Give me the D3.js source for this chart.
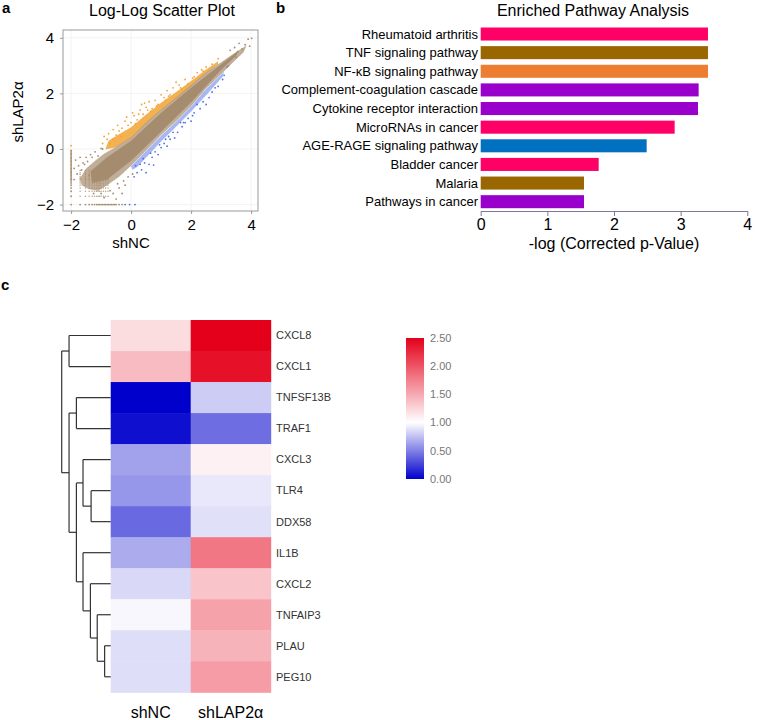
<!DOCTYPE html>
<html><head><meta charset="utf-8">
<script src="https://cdn.jsdelivr.net/npm/d3@7"></script>
<style>body{margin:0;background:#fff}svg{font-family:"Liberation Sans",Arial,sans-serif}</style>
</head><body><svg id="c" width="778" height="720"></svg>
<script>
// ---------- Panel a: log-log scatter ----------
const scatterTicks = [-2, 0, 2, 4];
// outer (less dense) brown cloud outline (shNC, shLAP2α)
const brownCloud = [[-1.7,-1.05],[-1.5,-0.7],[-1.2,-0.42],[-0.9,-0.17],[-0.5,0.08],[0,0.42],[0.5,0.95],[1,1.42],[1.5,1.85],[2,2.3],[2.5,2.75],[3,3.12],[3.4,3.42],[3.7,3.62],[3.85,3.72],
  [3.75,3.48],[3.4,3.12],[3.1,2.8],[2.5,2.18],[2,1.55],[1.5,1.0],[1,0.5],[0.5,-0.05],[0,-0.6],[-0.4,-1.0],[-0.8,-1.3],[-1.1,-1.5],[-1.4,-1.45],[-1.65,-1.3]];
// dense core of the brown cloud
const brownCore = [[-1.35,-0.8],[-0.8,-0.3],[0,0.3],[1,1.3],[2,2.2],[3,3.05],[3.6,3.55],
  [3.5,3.35],[3,2.85],[2,1.68],[1,0.62],[0,-0.42],[-0.8,-1.1],[-1.3,-1.22]];
// dense orange stripe above the cloud
const orangeBand = [[-0.85,0.02],[-0.75,0.3],[-0.45,0.5],[0,0.78],[0.5,1.24],[1,1.66],[1.5,2.05],[2,2.45],[2.5,2.86],[2.9,3.16],
  [2.9,3.05],[2.5,2.72],[2,2.27],[1.5,1.82],[1,1.39],[0.5,0.92],[0,0.4],[-0.5,0.06],[-0.85,-0.02]];
// dense blue stripe below the cloud
const blueBand = [[0.0,-0.62],[0.5,-0.07],[1,0.48],[1.5,0.98],[2,1.53],[2.5,2.16],[3.1,2.78],
  [3.05,2.6],[2.6,2.05],[2,1.35],[1.5,0.8],[1,0.27],[0.55,-0.25],[0.2,-0.65],[0.05,-0.75]];
const orangePts = [[-2.0,0.12],[-0.95,0.2],[-0.8,0.35],[-0.75,0.55],[-0.6,0.7],[-0.6,0.35],[-0.5,0.5],[-0.45,0.85],[-0.3,0.75],[-0.2,1.0],[-0.15,1.15],[0,0.95],[0.1,1.2],[0.2,1.05],[0.3,1.4],[0.35,1.6],[0.4,1.25],[0.5,1.5],[0.6,1.7],[0.7,1.45],[0.8,1.75],[0.9,1.6],[1.0,1.95],[1.1,1.85],[1.2,2.1],[1.3,1.95],[1.4,2.2],[1.5,2.4],[1.6,2.3],[1.7,2.15],[1.8,2.5],[1.9,2.35],[2.1,2.6],[2.2,2.75],[2.4,2.8],[2.5,2.95],[2.7,3.05],[2.9,3.25],[-0.35,0.45],[0.15,0.9],[0.65,1.35],[1.15,1.75],
  [-0.7,0.2],[-0.4,0.65],[-0.1,0.85],[0.25,1.25],[0.55,1.4],[0.85,1.55],[1.25,1.9],[1.65,2.2],[2.05,2.55],[2.35,2.85],[-0.9,0.45],[0.05,1.3],[0.45,1.65]];
const bluePts = [[0.1,-1.0],[0.2,-0.85],[0.35,-0.75],[0.45,-0.5],[0.5,-0.85],[0.6,-0.55],[0.7,-0.3],[0.75,-0.58],[0.8,-0.1],[0.9,-0.2],[1.0,0.05],[1.1,0.2],[1.2,0.1],[1.3,0.35],[1.45,0.4],[1.55,0.6],[1.7,0.8],[1.8,0.95],[1.9,1.1],[2.0,1.0],[2.1,1.3],[2.3,1.45],[2.5,1.6],[2.6,1.85],[2.7,2.05],[2.9,2.25],[3.05,2.5],[3.1,2.65],[-0.2,-2.0],[-0.05,-2.0],[0.13,-2.0],[1.25,0.45],[1.65,0.95],[2.2,1.6],[0.3,-0.55],
  [0.15,-0.6],[0.4,-0.35],[0.65,-0.15],[0.95,0.15],[1.15,0.35],[1.4,0.6],[1.75,0.95],[2.05,1.2],[2.4,1.7],[2.8,2.2],[3.2,2.95]];
const brownPts = [[3.3,3.55],[3.45,3.65],[3.55,3.5],[3.6,3.8],[3.7,3.6],[3.8,3.75],[3.9,3.95],[4.02,3.98],[3.5,3.3],[3.25,3.0],[3.95,3.7],
  [-1.9,-1.1],[-1.8,-0.9],[-1.75,-0.6],[-1.6,-0.5],[-1.5,-0.3],[-1.3,-0.3],[-1.2,-0.1],[-1.0,0.02],[-1.85,-0.4],[-1.65,-0.75],[-1.4,-0.95],
  [-0.6,-1.6],[-0.4,-1.4],[-0.2,-1.3],[-0.9,-1.75],[-0.5,-1.8],[-0.3,-1.6],[-0.1,-1.0],[0.05,-0.9],
  [-1.55,-0.55],[-1.45,-0.45],[-1.35,-0.2],[-1.1,-0.25],[-0.95,0.0],[-1.9,-0.7],[-1.7,-0.3],[-0.7,-1.5],[-0.45,-1.25],[-0.25,-1.15],[-1.0,-1.6],[-1.25,-1.6]];
const countLevels = [-1.7,-1.52,-1.4,-1.3,-1.22,-1.15,-1.1,-1.05,-1.0,-0.92,-0.85,-0.77];
const edgeColumnY = [-2,-1.7,-1.52,-1.4,-1.3,-1.22,-1.15,-1.1,-1.05,-1.0,-0.95,-0.9,-0.85,-0.8,-0.75,-0.7,-0.65,-0.6,-0.55,-0.5,-0.45,-0.4,-0.35,-0.3,-0.25,-0.2,-0.15,-0.1,-0.05];
const edgeRowX = [-1.7,-1.52,-1.4,-1.3,-1.22,-1.15,-1.1,-1.05,-1.0,-0.95,-0.9,-0.85,-0.8,-0.75,-0.7,-0.65,-0.6,-0.55,-0.5,-0.4,-0.3];

// ---------- Panel b: pathways ----------
const pathways = ["Rheumatoid arthritis","TNF signaling pathway","NF-κB signaling pathway","Complement-coagulation cascade","Cytokine receptor interaction","MicroRNAs in cancer","AGE-RAGE signaling pathway","Bladder cancer","Malaria","Pathways in cancer"];
const pathwayScores = [3.41, 3.41, 3.41, 3.27, 3.26, 2.91, 2.49, 1.77, 1.55, 1.55];
const pathwayColors = ["#ff0066","#996600","#ed7d31","#9900cc","#9900cc","#ff0066","#0070c0","#ff0066","#996600","#9900cc"];
const barTicks = [0, 1, 2, 3, 4];

// ---------- Panel c: heatmap ----------
const genes = ["CXCL8","CXCL1","TNFSF13B","TRAF1","CXCL3","TLR4","DDX58","IL1B","CXCL2","TNFAIP3","PLAU","PEG10"];
const samples = ["shNC","shLAP2α"];
const exprShNC    = [1.2, 1.4, 0.0, 0.06, 0.63, 0.59, 0.41, 0.67, 0.85, 0.97, 0.87, 0.87];
const exprShLAP2a = [2.5, 2.4, 0.8, 0.43, 1.08, 0.91, 0.88, 1.8, 1.35, 1.55, 1.45, 1.58];
const legendTicks = [0, 0.5, 1, 1.5, 2, 2.5];
const dendroTree = {h:1.0, children:[
  {h:0.85, children:[{name:"CXCL8"},{name:"CXCL1"}]},
  {h:0.85, children:[
    {h:0.70, children:[{name:"TNFSF13B"},{name:"TRAF1"}]},
    {h:0.70, children:[
      {h:0.565, children:[{name:"CXCL3"},{h:0.40, children:[{name:"TLR4"},{name:"DDX58"}]}]},
      {h:0.565, children:[{name:"IL1B"},{h:0.414, children:[{name:"CXCL2"},{h:0.275, children:[{name:"TNFAIP3"},{h:0.124, children:[{name:"PLAU"},{name:"PEG10"}]}]}]}]}
    ]}
  ]}
]};

const svg = d3.select("#c");
const font = '"Liberation Sans",Arial,sans-serif';

// panel letters
[["a",2,13],["b",276,13],["c",1,290]].forEach(([t,x,y]) =>
  svg.append("text").attr("x",x).attr("y",y).attr("font-size",15).attr("font-weight","bold").text(t));

// ===== Panel a =====
{
  const x = d3.scaleLinear().domain([-2.27, 4.23]).range([63, 258]);
  const y = d3.scaleLinear().domain([-2.23, 4.28]).range([211, 30]);
  const g = svg.append("g");
  g.append("defs").append("clipPath").attr("id","sc").append("rect")
    .attr("x",63).attr("y",30).attr("width",195).attr("height",181);
  g.selectAll(".gx").data(scatterTicks).join("line").attr("x1",d=>x(d)).attr("x2",d=>x(d)).attr("y1",30).attr("y2",211).attr("stroke","#f3f3f3");
  g.selectAll(".gy").data(scatterTicks).join("line").attr("y1",d=>y(d)).attr("y2",d=>y(d)).attr("x1",63).attr("x2",258).attr("stroke","#f3f3f3");
  const pg = g.append("g").attr("clip-path","url(#sc)");
  const brown = "#a68c6e", orange = "#f2a332", blue = "#4f70e6";
  const dot = (data, col, r) => pg.append("g").selectAll("circle").data(data).join("circle")
      .attr("cx",d=>x(d[0])).attr("cy",d=>y(d[1])).attr("r",r).attr("fill",col);
  dot(d3.cross(countLevels, countLevels), brown, 0.75).attr("opacity",0.8);
  dot(edgeColumnY.map(v=>[-2,v]), brown, 0.9);
  dot(edgeRowX.map(v=>[v,-2]), brown, 0.9);
  const line = d3.line().x(d=>x(d[0])).y(d=>y(d[1])).curve(d3.curveLinearClosed);
  pg.append("path").attr("d",line(orangeBand)).attr("fill",orange).attr("opacity",0.85);
  pg.append("path").attr("d",line(blueBand)).attr("fill",blue).attr("opacity",0.5);
  dot(orangePts, orange, 0.9);
  dot(bluePts, blue, 0.9);
  pg.append("path").attr("d",line(brownCloud)).attr("fill",brown).attr("opacity",0.7);
  pg.append("path").attr("d",line(brownCore)).attr("fill",brown);
  dot(brownPts, brown, 0.9);
  g.append("rect").attr("x",63).attr("y",30).attr("width",195).attr("height",181).attr("fill","none").attr("stroke","#999").attr("stroke-width",1);
  const fmt = d3.format("d");
  const ax = g.append("g").attr("transform","translate(0,211)").call(d3.axisBottom(x).tickValues(scatterTicks).tickFormat(fmt).tickSize(3).tickPadding(5));
  ax.select(".domain").remove();
  ax.selectAll("line").attr("stroke","#999");
  ax.selectAll("text").attr("font-size",15).attr("font-family",font).attr("fill","#000");
  const ay = g.append("g").attr("transform","translate(63,0)").call(d3.axisLeft(y).tickValues(scatterTicks).tickFormat(fmt).tickSize(3).tickPadding(6));
  ay.select(".domain").remove();
  ay.selectAll("line").attr("stroke","#999");
  ay.selectAll("text").attr("font-size",15).attr("font-family",font).attr("fill","#000");
  g.append("text").attr("x",131).attr("y",248).attr("text-anchor","middle").attr("font-size",15).text("shNC");
  g.append("text").attr("transform","translate(23,112) rotate(-90)").attr("text-anchor","middle").attr("font-size",15).text("shLAP2α");
  g.append("text").attr("x",162).attr("y",16).attr("text-anchor","middle").attr("font-size",16).text("Log-Log Scatter Plot");
}

// ===== Panel b =====
{
  const x = d3.scaleLinear().domain([0,4]).range([480.7, 747.3]);
  const y = d3.scaleBand().domain(pathways).range([24.7, 211]).paddingInner(0.3).paddingOuter(0.15);
  const g = svg.append("g");
  g.selectAll("rect").data(pathways).join("rect")
    .attr("x",x(0)).attr("y",d=>y(d)).attr("height",y.bandwidth())
    .attr("width",(d,i)=>x(pathwayScores[i])-x(0)).attr("fill",(d,i)=>pathwayColors[i]);
  g.selectAll(".lbl").data(pathways).join("text")
    .attr("x",478).attr("y",d=>y(d)+y.bandwidth()/2).attr("dy","0.35em")
    .attr("text-anchor","end").attr("font-size",13).text(d=>d);
  const ax = g.append("g").attr("transform","translate(0,211)").call(d3.axisBottom(x).tickValues(barTicks).tickFormat(d3.format("d")).tickSize(5).tickPadding(3).tickSizeOuter(0));
  ax.select(".domain").attr("stroke","#7a7a9a");
  ax.selectAll("line").attr("stroke","#7a7a9a");
  ax.selectAll("text").attr("font-size",16).attr("font-family",font).attr("fill","#000");
  g.append("text").attr("x",614).attr("y",249).attr("text-anchor","middle").attr("font-size",16).text("-log (Corrected p-Value)");
  g.append("text").attr("x",593).attr("y",16).attr("text-anchor","middle").attr("font-size",16).text("Enriched Pathway Analysis");
}

// ===== Panel c =====
{
  const color = d3.scaleLinear().domain([0,1,2.5]).range(["#0000cc","#ffffff","#e4001a"]);
  const xb = d3.scaleBand().domain(samples).range([110.7, 270.7]);
  const yb = d3.scaleBand().domain(genes).range([320, 692.3]);
  const g = svg.append("g");
  const cells = [];
  genes.forEach((gn,i)=>{ cells.push({g:gn,s:samples[0],v:exprShNC[i]}); cells.push({g:gn,s:samples[1],v:exprShLAP2a[i]}); });
  g.selectAll("rect").data(cells).join("rect")
    .attr("x",d=>xb(d.s)).attr("y",d=>yb(d.g)).attr("width",xb.bandwidth()+0.5).attr("height",yb.bandwidth()+0.5)
    .attr("fill",d=>color(d.v));
  g.selectAll(".gl").data(genes).join("text")
    .attr("x",276).attr("y",d=>yb(d)+yb.bandwidth()/2).attr("dy","0.35em")
    .attr("font-size",11).attr("fill","#333").text(d=>d);
  g.selectAll(".sl").data(samples).join("text")
    .attr("x",d=>xb(d)+xb.bandwidth()/2).attr("y",718).attr("text-anchor","middle")
    .attr("font-size",16).text(d=>d);
  const dx = d3.scaleLinear().domain([0,1]).range([110.7, 61.7]);
  const root = d3.hierarchy(dendroTree);
  root.eachAfter(n=>{
    if (!n.children) { n.py = yb(n.data.name)+yb.bandwidth()/2; n.px = dx(0); }
    else { n.py = (n.children[0].py + n.children[n.children.length-1].py)/2; n.px = dx(n.data.h); }
  });
  const dg = g.append("g").attr("stroke","#333").attr("stroke-width",1.2).attr("fill","none");
  root.descendants().filter(n=>n.children).forEach(n=>{
    dg.append("line").attr("x1",n.px).attr("x2",n.px).attr("y1",n.children[0].py).attr("y2",n.children[n.children.length-1].py);
    n.children.forEach(c=>dg.append("line").attr("x1",n.px).attr("x2",c.px).attr("y1",c.py).attr("y2",c.py));
  });
  const ly = d3.scaleLinear().domain([0,2.5]).range([479, 338]);
  const grad = svg.append("defs").append("linearGradient").attr("id","lg").attr("x1",0).attr("y1",1).attr("x2",0).attr("y2",0);
  d3.range(0,2.51,0.25).forEach(v=>grad.append("stop").attr("offset",v/2.5).attr("stop-color",color(v)));
  g.append("rect").attr("x",406).attr("y",338).attr("width",18).attr("height",141).attr("fill","url(#lg)");
  g.selectAll(".lt").data(legendTicks).join("text")
    .attr("x",430).attr("y",d=>ly(d)).attr("dy","0.35em").attr("font-size",11).attr("fill","#777")
    .text(d=>d3.format(".2f")(d));
}
</script></body></html>
